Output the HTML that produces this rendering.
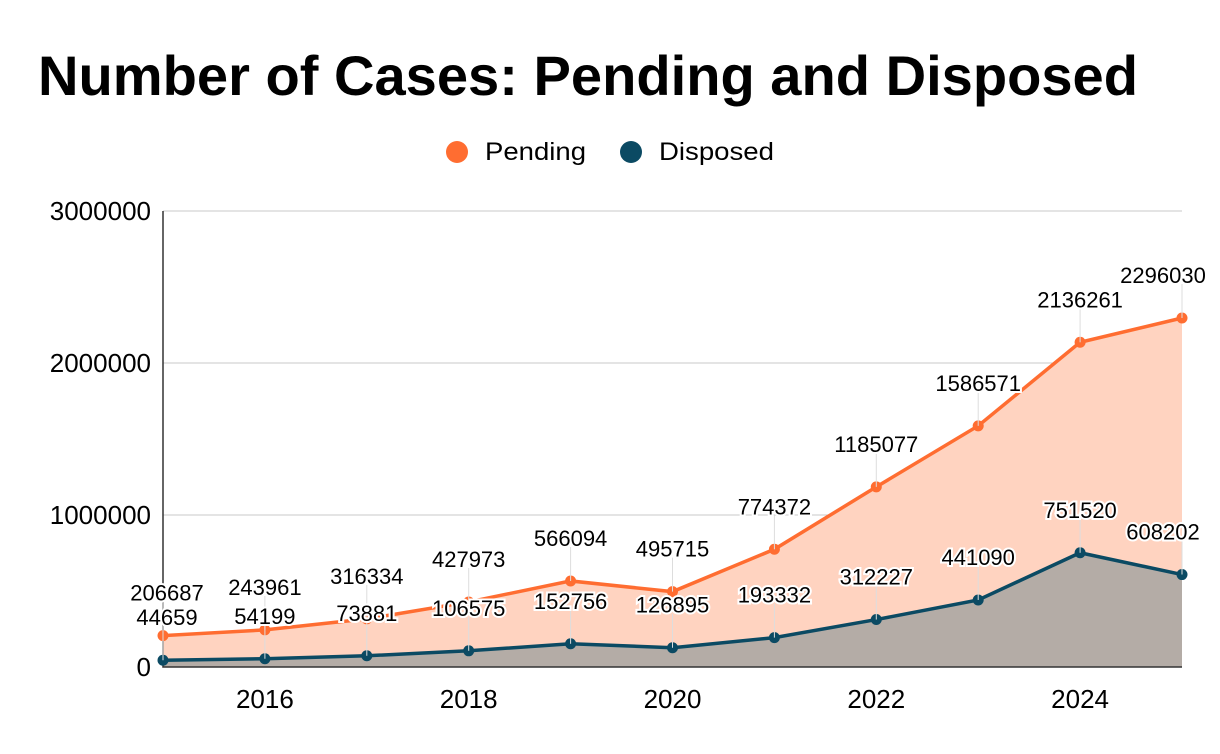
<!DOCTYPE html>
<html><head><meta charset="utf-8"><style>
body{margin:0;background:#fff;}
svg{display:block;font-family:"Liberation Sans",sans-serif;}
</style></head><body>
<svg id="chart" width="1220" height="754">
<text x="38" y="95" font-size="56" font-weight="bold" fill="#000" textLength="1100" lengthAdjust="spacingAndGlyphs">Number of Cases: Pending and Disposed</text>
<g>
<circle cx="457" cy="152" r="11" fill="#ff6d31"/>
<text x="485" y="160" font-size="25" fill="#000" textLength="101" lengthAdjust="spacingAndGlyphs">Pending</text>
<circle cx="631" cy="152" r="11" fill="#0b4a63"/>
<text x="659" y="160" font-size="25" fill="#000" textLength="115" lengthAdjust="spacingAndGlyphs">Disposed</text>
</g>
<g id="grid"></g><g id="areas"></g><g id="lines"></g><g id="labels"></g>
</svg>
<script>
const years=[2015,2016,2017,2018,2019,2020,2021,2022,2023,2024,2025];
const pending=[206687,243961,316334,427973,566094,495715,774372,1185077,1586571,2136261,2296030];
const disposed=[44659,54199,73881,106575,152756,126895,193332,312227,441090,751520,608202];
const yTicks=[0,1000000,2000000,3000000];
const xTicks=[2016,2018,2020,2022,2024];
const NS="http://www.w3.org/2000/svg";
const L=163,R=1182,T=211,B=667;
const x=v=>L+(v-2015)/(2025-2015)*(R-L);
const y=v=>B-v/3000000*(B-T);
function mk(tag,attrs,parent){const e=document.createElementNS(NS,tag);for(const k in attrs)e.setAttribute(k,attrs[k]);document.getElementById(parent).appendChild(e);return e;}
yTicks.forEach(t=>{
  if(t>0){const g=mk('line',{x1:L,x2:R,y1:y(t),y2:y(t),stroke:'#c8c8c8','stroke-width':1},'grid');
  
  }
  const tx=mk('text',{x:151,y:y(t)+9,'font-size':26,'text-anchor':'end',fill:'#000'},'grid');tx.textContent=t;
  
  
});
xTicks.forEach(t=>{
  const tx=mk('text',{x:x(t),y:708,'font-size':26,'text-anchor':'middle',fill:'#000'},'grid');tx.textContent=t;
  
  
});
function pts(arr){return arr.map((v,i)=>x(years[i])+','+y(v)).join(' ');}
const ap=mk('polygon',{points:pts(pending)+` ${R},${B} ${L},${B}`,fill:'#ffd3c0'},'areas');


const ad=mk('polygon',{points:pts(disposed)+` ${R},${B} ${L},${B}`,fill:'#b4aca6'},'areas');


const ax=mk('path',{d:`M${L},${T}V${B}H${R}`,stroke:'#333',fill:'none','stroke-width':1.5},'areas');


[[pending,'#ff6d31','pending'],[disposed,'#0b4a63','disposed']].forEach(([arr,c,n])=>{
  const pl=mk('polyline',{points:pts(arr),fill:'none',stroke:c,'stroke-width':3.5},'lines');
  
  
  arr.forEach((v,i)=>{
    const px=x(years[i]),py=y(v);
    const ld=mk('line',{x1:px,x2:px,y1:py-34,y2:py,stroke:'#ddd','stroke-width':1},'labels');
    
    
    const p=mk('circle',{cx:px,cy:py,r:5.5,fill:c},'lines');
    
    
    let lx=Math.min(Math.max(px,167),1163);
    const t=mk('text',{x:lx,y:py-35,'font-size':22,'text-anchor':'middle',fill:'#000',stroke:'#fff','stroke-width':4,'paint-order':'stroke'},'labels');
    t.textContent=v;
    
    
  });
});
</script>
</body></html>
